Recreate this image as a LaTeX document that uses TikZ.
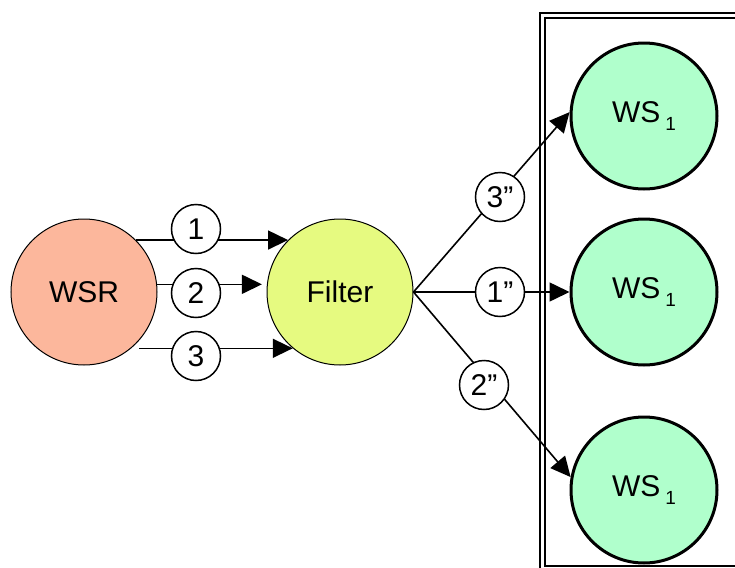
\documentclass[tikz,border=0pt]{standalone}
\usepackage{fontspec}
\setmainfont{Liberation Sans}
\usetikzlibrary{arrows.meta}
\definecolor{wsrcol}{RGB}{252,183,156}
\definecolor{filtercol}{RGB}{230,250,128}
\definecolor{wscol}{RGB}{176,255,204}
\newcommand{\wsname}{WS\,\raisebox{-0.25em}{\fontsize{9.5}{9.5}\selectfont 1}}

\begin{document}
\begin{tikzpicture}[x=0.5pt,y=-0.5pt,
    big/.style={circle,draw,minimum size=73pt,inner sep=0pt,font=\fontsize{15}{17}\selectfont},
    msg/.style={circle,draw,fill=white,line width=0.75pt,minimum size=24.5pt,inner sep=0pt,font=\fontsize{15}{17}\selectfont},
    link/.style={line width=0.8pt,-{Triangle[length=10pt,width=9.5pt]}}]
    \useasboundingbox (0,0) rectangle (735,568);
    \clip (0,0) rectangle (735,568);
    \draw[line width=1pt] (540,13) rectangle (800,620);
    \draw[line width=0.75pt] (545,18) rectangle (790,566);
    \node[big,fill=wsrcol,line width=0.5pt] (wsr) at (84,292) {WSR};
    \node[big,fill=filtercol,line width=0.5pt] (filter) at (340,292) {Filter};
    \node[big,fill=wscol,line width=1.5pt] (ws1) at (644,116) {\wsname};
    \node[big,fill=wscol,line width=1.5pt] (ws2) at (644,292) {\wsname};
    \node[big,fill=wscol,line width=1.5pt] (ws3) at (644,490) {\wsname};
    \draw[link] (wsr.45) -- (filter.135);
    \draw[link,shorten >=2.5pt] (wsr.6) -- (filter.174);
    \draw[link,shorten <=4pt] (wsr.-50) -- (filter.230);
    \draw[link] (filter.east) -- (ws1.177);
    \draw[link] (filter.east) -- (ws2.west);
    \draw[link] (filter.east) -- (ws3.170);
    \node[msg] (l1) at (196,229) {1};
    \node[msg] (l2) at (196,293) {2};
    \node[msg] (l3) at (196,356) {3};
    \node[msg] (r3) at (500,197) {3”};
    \node[msg] (r1) at (500,292) {1”};
    \node[msg] (r2) at (484,385) {2”};
\end{tikzpicture}
\end{document}
